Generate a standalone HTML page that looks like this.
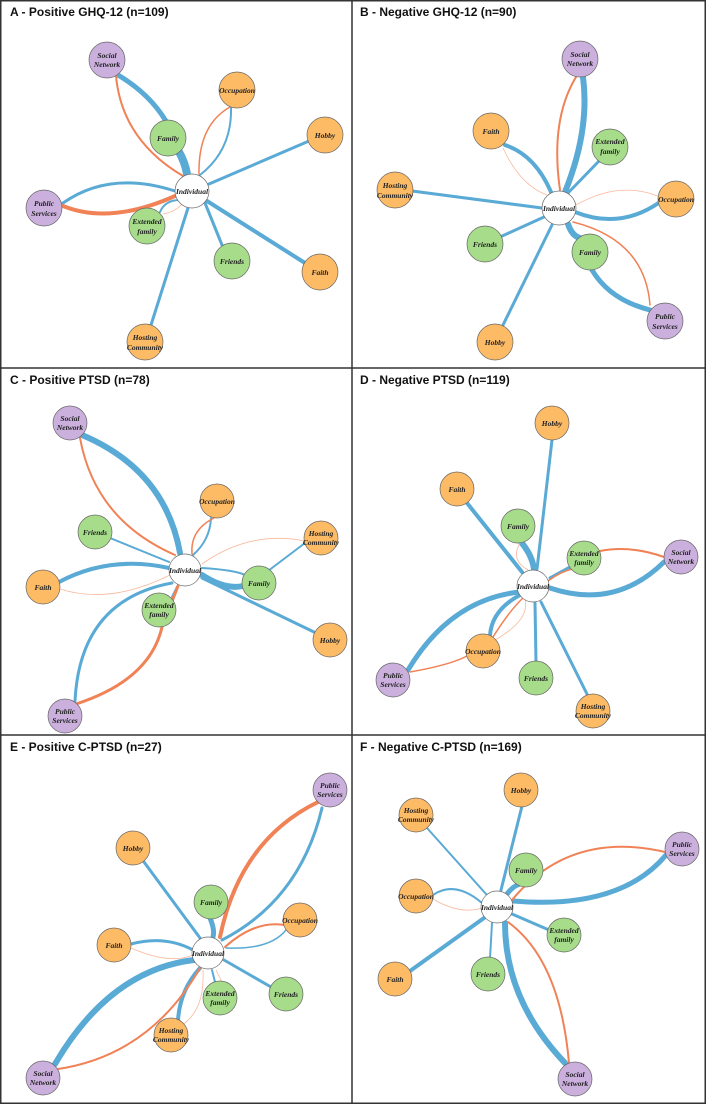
<!DOCTYPE html>
<html><head><meta charset="utf-8"><style>
html,body{margin:0;padding:0;background:#fff;}
svg{display:block;}
.t{font-family:"Liberation Sans",sans-serif;font-weight:bold;font-size:12px;fill:#111;}
.n{font-family:"Liberation Serif",serif;font-style:italic;font-weight:bold;font-size:7.5px;fill:#222;text-anchor:middle;}
.b{stroke:#5aaad6;fill:none;stroke-linecap:round;}
.o{stroke:#f08256;fill:none;stroke-linecap:round;}
.lo{stroke:#f8b89c;fill:none;stroke-width:0.8;}
.O{fill:#fdbb66;stroke:#666;stroke-width:0.7;}
.G{fill:#a6dc8a;stroke:#666;stroke-width:0.7;}
.P{fill:#cbb0de;stroke:#666;stroke-width:0.7;}
.W{fill:#fff;stroke:#666;stroke-width:0.7;}
</style></head><body>
<svg width="706" height="1104" viewBox="0 0 706 1104" xmlns="http://www.w3.org/2000/svg">
<rect x="0.75" y="0.75" width="704.5" height="1102.5" fill="#fff" stroke="#333" stroke-width="1.5"/>
<line x1="352" y1="0" x2="352" y2="1104" stroke="#333" stroke-width="1.5"/>
<line x1="0" y1="368" x2="706" y2="368" stroke="#333" stroke-width="1.5"/>
<line x1="0" y1="735" x2="706" y2="735" stroke="#333" stroke-width="1.5"/>
<text class="t" x="10" y="16">A - Positive GHQ-12 (n=109)</text>
<text class="t" x="360" y="16">B - Negative GHQ-12 (n=90)</text>
<text class="t" x="10" y="384">C - Positive PTSD (n=78)</text>
<text class="t" x="360" y="384">D - Negative PTSD (n=119)</text>
<text class="t" x="10" y="751">E - Positive C-PTSD (n=27)</text>
<text class="t" x="360" y="751">F - Negative C-PTSD (n=169)</text>

<!-- Panel A edges -->
<path class="b" stroke-width="5" d="M118,75 Q160,100 175,140 Q183,160 186,174"/>
<path class="b" stroke-width="8" d="M178,150 Q185,162 187,174"/>
<path class="o" stroke-width="2" d="M116,76 Q122,140 183,176"/>
<path class="b" stroke-width="2" d="M231,108 Q232,150 200,175"/>
<path class="o" stroke-width="1.5" d="M230,107 Q198,125 199,174"/>
<path class="b" stroke-width="3" d="M209,184 L309,141"/>
<path class="b" stroke-width="3" d="M63,203 Q110,170 175,191"/>
<path class="o" stroke-width="4" d="M63,206 Q110,225 175,196"/>
<path class="b" stroke-width="2" d="M160,212 Q165,200 180,200"/>
<path class="lo" d="M163,214 Q175,212 182,204"/>
<path class="b" stroke-width="3" d="M205,203 L222,245"/>
<path class="b" stroke-width="4" d="M207,201 L305,263"/>
<path class="b" stroke-width="3" d="M188,208 L151,325"/>

<!-- Panel B edges -->
<path class="b" stroke-width="6" d="M583,77 Q590,130 565,192"/>
<path class="o" stroke-width="2" d="M576,77 Q550,120 560,190"/>
<path class="b" stroke-width="4" d="M505,145 Q535,155 551,192"/>
<path class="lo" d="M503,148 Q520,185 547,195"/>
<path class="b" stroke-width="3" d="M600,160 L568,193"/>
<path class="b" stroke-width="3" d="M412,191 L542,208"/>
<path class="b" stroke-width="4" d="M575,212 Q620,230 660,202"/>
<path class="lo" d="M576,205 Q620,180 660,197"/>
<path class="b" stroke-width="3" d="M544,217 L500,237"/>
<path class="b" stroke-width="6" d="M568,224 Q572,236 580,238"/>
<path class="b" stroke-width="5" d="M592,270 Q610,300 650,310"/>
<path class="o" stroke-width="1.5" d="M573,222 Q645,240 650,305"/>
<path class="b" stroke-width="3" d="M552,225 L503,325"/>

<!-- Panel C edges -->
<path class="b" stroke-width="6" d="M82,435 Q165,470 180,553"/>
<path class="o" stroke-width="2" d="M80,438 Q95,520 175,555"/>
<path class="b" stroke-width="2" d="M211,518 Q210,540 193,555"/>
<path class="o" stroke-width="1.5" d="M214,518 Q190,530 192,554"/>
<path class="b" stroke-width="2" d="M110,538 L169,562"/>
<path class="lo" d="M202,564 Q250,530 305,541"/>
<path class="b" stroke-width="2" d="M268,571 L305,543"/>
<path class="b" stroke-width="2" d="M202,568 Q235,570 245,575"/>
<path class="b" stroke-width="6" d="M202,575 Q225,590 243,586"/>
<path class="b" stroke-width="4" d="M59,582 Q110,555 169,568"/>
<path class="lo" d="M60,589 Q110,605 170,575"/>
<path class="b" stroke-width="3" d="M202,578 L316,633"/>
<path class="b" stroke-width="2" d="M178,585 L172,597"/>
<path class="b" stroke-width="3" d="M75,701 Q80,600 172,583"/>
<path class="o" stroke-width="3" d="M76,704 Q150,680 162,627 L178,586"/>

<!-- Panel D edges -->
<path class="b" stroke-width="3" d="M552,440 L537,569"/>
<path class="b" stroke-width="4" d="M467,503 L522,572"/>
<path class="b" stroke-width="6" d="M521,542 Q532,555 534,569"/>
<path class="lo" d="M520,543 Q510,560 528,570"/>
<path class="b" stroke-width="3" d="M550,578 L570,567"/>
<path class="o" stroke-width="1.5" d="M548,581 Q560,572 572,569"/>
<path class="o" stroke-width="2" d="M600,551 Q630,545 664,557"/>
<path class="b" stroke-width="5" d="M664,562 Q615,610 550,588"/>
<path class="b" stroke-width="4" d="M490,635 Q492,610 520,595"/>
<path class="o" stroke-width="1.5" d="M493,637 Q510,610 523,598"/>
<path class="lo" d="M495,640 Q530,620 525,600"/>
<path class="b" stroke-width="5" d="M408,670 Q450,600 519,592"/>
<path class="o" stroke-width="1.5" d="M410,672 Q450,665 467,656"/>
<path class="b" stroke-width="3" d="M535,603 L536,662"/>
<path class="b" stroke-width="3" d="M541,602 L587,694"/>

<!-- Panel E edges -->
<path class="o" stroke-width="4" d="M318,802 Q240,840 220,937"/>
<path class="b" stroke-width="3" d="M322,808 Q300,900 222,940"/>
<path class="b" stroke-width="3" d="M144,862 L200,938"/>
<path class="b" stroke-width="5" d="M210,918 Q215,930 213,937"/>
<path class="o" stroke-width="2" d="M285,925 Q255,920 225,947"/>
<path class="b" stroke-width="1.5" d="M286,930 Q270,950 226,948"/>
<path class="b" stroke-width="3" d="M131,944 Q165,935 193,950"/>
<path class="lo" d="M131,948 Q170,965 193,955"/>
<path class="b" stroke-width="2" d="M212,970 L215,982"/>
<path class="lo" d="M216,970 L222,982"/>
<path class="b" stroke-width="3" d="M224,960 L271,987"/>
<path class="b" stroke-width="4" d="M200,968 Q180,990 178,1020"/>
<path class="lo" d="M203,970 Q205,1010 182,1025"/>
<path class="b" stroke-width="6" d="M55,1064 Q110,970 194,960"/>
<path class="o" stroke-width="2" d="M58,1069 Q150,1055 200,968"/>

<!-- Panel F edges -->
<path class="b" stroke-width="3" d="M522,806 L501,890"/>
<path class="b" stroke-width="2" d="M427,828 L486,894"/>
<path class="b" stroke-width="5" d="M507,894 Q513,886 520,884"/>
<path class="b" stroke-width="5" d="M666,855 Q620,910 513,901"/>
<path class="o" stroke-width="2" d="M665,852 Q570,830 512,900"/>
<path class="b" stroke-width="2" d="M433,895 Q455,880 482,903"/>
<path class="lo" d="M433,899 Q460,915 482,908"/>
<path class="b" stroke-width="3" d="M512,914 L549,930"/>
<path class="b" stroke-width="4" d="M484,918 L410,971"/>
<path class="b" stroke-width="2" d="M492,923 L490,958"/>
<path class="b" stroke-width="6" d="M505,923 Q505,1000 565,1063"/>
<path class="o" stroke-width="2" d="M508,922 Q560,960 569,1063"/>

<!-- Nodes A -->
<circle class="P" cx="107" cy="60" r="18"/><text class="n" x="107" y="58">Social</text><text class="n" x="107" y="67">Network</text>
<circle class="O" cx="237" cy="90" r="18"/><text class="n" x="237" y="93">Occupation</text>
<circle class="O" cx="325" cy="135" r="18"/><text class="n" x="325" y="138">Hobby</text>
<circle class="G" cx="168" cy="138" r="18"/><text class="n" x="168" y="141">Family</text>
<circle class="W" cx="192" cy="191" r="17"/><text class="n" x="192" y="194">Individual</text>
<circle class="P" cx="44" cy="208" r="18"/><text class="n" x="44" y="206">Public</text><text class="n" x="44" y="216">Services</text>
<circle class="G" cx="147" cy="226" r="18"/><text class="n" x="147" y="224">Extended</text><text class="n" x="147" y="234">family</text>
<circle class="G" cx="232" cy="261" r="18"/><text class="n" x="232" y="264">Friends</text>
<circle class="O" cx="320" cy="272" r="18"/><text class="n" x="320" y="275">Faith</text>
<circle class="O" cx="145" cy="342" r="18"/><text class="n" x="145" y="340">Hosting</text><text class="n" x="145" y="350">Community</text>

<!-- Nodes B -->
<circle class="P" cx="580" cy="59" r="18"/><text class="n" x="580" y="57">Social</text><text class="n" x="580" y="66">Network</text>
<circle class="O" cx="491" cy="131" r="18"/><text class="n" x="491" y="134">Faith</text>
<circle class="G" cx="610" cy="147" r="18"/><text class="n" x="610" y="144">Extended</text><text class="n" x="610" y="154">family</text>
<circle class="O" cx="395" cy="190" r="18"/><text class="n" x="395" y="188">Hosting</text><text class="n" x="395" y="198">Community</text>
<circle class="O" cx="676" cy="199" r="18"/><text class="n" x="676" y="202">Occupation</text>
<circle class="W" cx="559" cy="208" r="17"/><text class="n" x="559" y="211">Individual</text>
<circle class="G" cx="485" cy="244" r="18"/><text class="n" x="485" y="247">Friends</text>
<circle class="G" cx="590" cy="252" r="18"/><text class="n" x="590" y="255">Family</text>
<circle class="P" cx="665" cy="321" r="18"/><text class="n" x="665" y="319">Public</text><text class="n" x="665" y="329">Services</text>
<circle class="O" cx="495" cy="342" r="18"/><text class="n" x="495" y="345">Hobby</text>

<!-- Nodes C -->
<circle class="P" cx="70" cy="423" r="17"/><text class="n" x="70" y="421">Social</text><text class="n" x="70" y="430">Network</text>
<circle class="O" cx="217" cy="501" r="17"/><text class="n" x="217" y="504">Occupation</text>
<circle class="G" cx="95" cy="532" r="17"/><text class="n" x="95" y="535">Friends</text>
<circle class="O" cx="321" cy="538" r="17"/><text class="n" x="321" y="536">Hosting</text><text class="n" x="321" y="545">Community</text>
<circle class="W" cx="185" cy="570" r="16"/><text class="n" x="185" y="573">Individual</text>
<circle class="O" cx="43" cy="587" r="17"/><text class="n" x="43" y="590">Faith</text>
<circle class="G" cx="259" cy="583" r="17"/><text class="n" x="259" y="586">Family</text>
<circle class="G" cx="159" cy="610" r="17"/><text class="n" x="159" y="608">Extended</text><text class="n" x="159" y="617">family</text>
<circle class="O" cx="330" cy="640" r="17"/><text class="n" x="330" y="643">Hobby</text>
<circle class="P" cx="65" cy="716" r="17"/><text class="n" x="65" y="714">Public</text><text class="n" x="65" y="723">Services</text>

<!-- Nodes D -->
<circle class="O" cx="552" cy="423" r="17"/><text class="n" x="552" y="426">Hobby</text>
<circle class="O" cx="457" cy="489" r="17"/><text class="n" x="457" y="492">Faith</text>
<circle class="G" cx="518" cy="526" r="17"/><text class="n" x="518" y="529">Family</text>
<circle class="G" cx="584" cy="558" r="17"/><text class="n" x="584" y="556">Extended</text><text class="n" x="584" y="565">family</text>
<circle class="P" cx="681" cy="557" r="17"/><text class="n" x="681" y="555">Social</text><text class="n" x="681" y="564">Network</text>
<circle class="W" cx="533" cy="586" r="16"/><text class="n" x="533" y="589">Individual</text>
<circle class="O" cx="483" cy="651" r="17"/><text class="n" x="483" y="654">Occupation</text>
<circle class="G" cx="536" cy="678" r="17"/><text class="n" x="536" y="681">Friends</text>
<circle class="P" cx="393" cy="680" r="17"/><text class="n" x="393" y="678">Public</text><text class="n" x="393" y="687">Services</text>
<circle class="O" cx="593" cy="711" r="17"/><text class="n" x="593" y="709">Hosting</text><text class="n" x="593" y="718">Community</text>

<!-- Nodes E -->
<circle class="P" cx="330" cy="790" r="17"/><text class="n" x="330" y="788">Public</text><text class="n" x="330" y="797">Services</text>
<circle class="O" cx="133" cy="848" r="17"/><text class="n" x="133" y="851">Hobby</text>
<circle class="G" cx="211" cy="902" r="17"/><text class="n" x="211" y="905">Family</text>
<circle class="O" cx="300" cy="920" r="17"/><text class="n" x="300" y="923">Occupation</text>
<circle class="O" cx="114" cy="945" r="17"/><text class="n" x="114" y="948">Faith</text>
<circle class="W" cx="208" cy="953" r="16"/><text class="n" x="208" y="956">Individual</text>
<circle class="G" cx="220" cy="998" r="17"/><text class="n" x="220" y="996">Extended</text><text class="n" x="220" y="1005">family</text>
<circle class="G" cx="286" cy="994" r="17"/><text class="n" x="286" y="997">Friends</text>
<circle class="O" cx="171" cy="1035" r="17"/><text class="n" x="171" y="1033">Hosting</text><text class="n" x="171" y="1042">Community</text>
<circle class="P" cx="43" cy="1078" r="17"/><text class="n" x="43" y="1076">Social</text><text class="n" x="43" y="1085">Network</text>

<!-- Nodes F -->
<circle class="O" cx="521" cy="790" r="17"/><text class="n" x="521" y="793">Hobby</text>
<circle class="O" cx="416" cy="815" r="17"/><text class="n" x="416" y="813">Hosting</text><text class="n" x="416" y="822">Community</text>
<circle class="P" cx="682" cy="849" r="17"/><text class="n" x="682" y="847">Public</text><text class="n" x="682" y="856">Services</text>
<circle class="G" cx="526" cy="870" r="17"/><text class="n" x="526" y="873">Family</text>
<circle class="O" cx="416" cy="896" r="17"/><text class="n" x="416" y="899">Occupation</text>
<circle class="W" cx="497" cy="907" r="16"/><text class="n" x="497" y="910">Individual</text>
<circle class="G" cx="564" cy="935" r="17"/><text class="n" x="564" y="933">Extended</text><text class="n" x="564" y="942">family</text>
<circle class="O" cx="395" cy="979" r="17"/><text class="n" x="395" y="982">Faith</text>
<circle class="G" cx="488" cy="974" r="17"/><text class="n" x="488" y="977">Friends</text>
<circle class="P" cx="575" cy="1079" r="17"/><text class="n" x="575" y="1077">Social</text><text class="n" x="575" y="1086">Network</text>
</svg>
</body></html>
